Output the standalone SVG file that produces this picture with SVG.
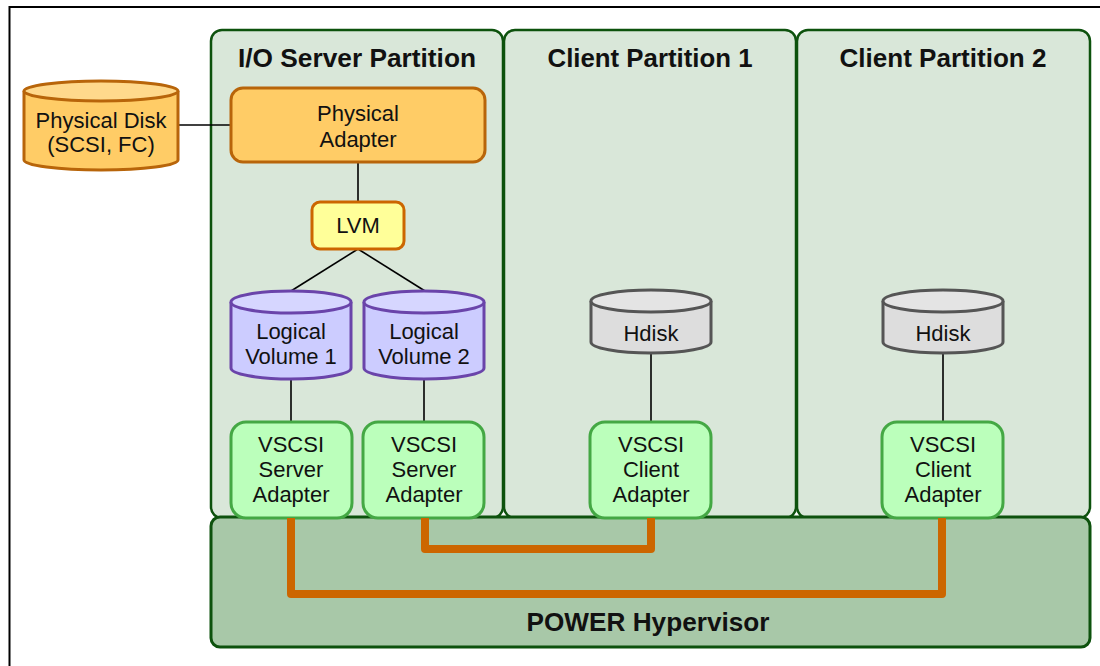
<svg xmlns="http://www.w3.org/2000/svg" width="1100" height="666" viewBox="0 0 1100 666">
<style>
.part{fill:#d9e7d9;stroke:#0d520d;stroke-width:2.5}
.hyp{fill:#a8c8a8;stroke:#0d520d;stroke-width:3}
.h{font-family:"Liberation Sans",Arial,sans-serif;font-weight:bold;font-size:25px;fill:#111;text-anchor:middle}
.t{font-family:"Liberation Sans",Arial,sans-serif;font-size:22px;fill:#111;text-anchor:middle}
.pd{fill:#ffcc66;stroke:#b8650a;stroke-width:3}
.pdtop{fill:#ffd98c;stroke:#b8650a;stroke-width:3}
.lvm{fill:#ffff99;stroke:#cc6600;stroke-width:3}
.lv{fill:#ccccff;stroke:#6a44aa;stroke-width:3}
.lvtop{fill:#d6d6ff;stroke:#6a44aa;stroke-width:3}
.hd{fill:#dddddd;stroke:#555555;stroke-width:3}
.hdtop{fill:#e4e4e4;stroke:#555555;stroke-width:3}
.vs{fill:#bbffbb;stroke:#44a844;stroke-width:3}
.ln{stroke:#000;stroke-width:1.6;fill:none}
.or{stroke:#cc6600;stroke-width:8;fill:none;stroke-linejoin:round}
</style>
<rect width="1100" height="666" fill="#ffffff"/>
<path d="M9.5,666 V7 H1100" fill="none" stroke="#000" stroke-width="2"/>

<g id="io-partition">
<rect class="part" x="211" y="30" width="292" height="488" rx="11"/>
<text class="h" x="357" y="67" textLength="238" lengthAdjust="spacingAndGlyphs">I/O Server Partition</text>
</g>
<g id="client-partition-1">
<rect class="part" x="504" y="30" width="292" height="488" rx="11"/>
<text class="h" x="650" y="67" textLength="205" lengthAdjust="spacingAndGlyphs">Client Partition 1</text>
</g>
<g id="client-partition-2">
<rect class="part" x="797" y="30" width="293" height="488" rx="11"/>
<text class="h" x="943" y="67" textLength="207" lengthAdjust="spacingAndGlyphs">Client Partition 2</text>
</g>
<g id="hypervisor">
<rect class="hyp" x="211" y="517" width="879" height="130" rx="9"/>
<text class="h" x="648" y="631" textLength="243" lengthAdjust="spacingAndGlyphs">POWER Hypervisor</text>
</g>

<g id="connectors">
<line class="ln" x1="179" y1="125" x2="231" y2="125"/>
<line class="ln" x1="358" y1="162" x2="358" y2="202"/>
<line class="ln" x1="358" y1="249" x2="291" y2="291"/>
<line class="ln" x1="358" y1="249" x2="425" y2="291"/>
<line class="ln" x1="291" y1="380" x2="291" y2="421"/>
<line class="ln" x1="424" y1="380" x2="424" y2="421"/>
<line class="ln" x1="651" y1="353" x2="651" y2="421"/>
<line class="ln" x1="943" y1="353" x2="943" y2="421"/>
</g>

<g id="physical-disk">
<path class="pd" d="M24,91 V160 A77,10 0 0 0 178,160 V91"/>
<ellipse class="pdtop" cx="101" cy="91" rx="77" ry="10"/>
<text class="t" x="101" y="128">Physical Disk</text>
<text class="t" x="101" y="152">(SCSI, FC)</text>
</g>
<g id="physical-adapter">
<rect class="pd" x="231" y="88" width="254" height="74" rx="12"/>
<text class="t" x="358" y="121">Physical</text>
<text class="t" x="358" y="147">Adapter</text>
</g>
<g id="lvm">
<rect class="lvm" x="312" y="202" width="92" height="47" rx="8"/>
<text class="t" x="358" y="233">LVM</text>
</g>
<g id="logical-volume-1">
<path class="lv" d="M231,302 V368 A60,11 0 0 0 351,368 V302"/>
<ellipse class="lvtop" cx="291" cy="302" rx="60" ry="11"/>
<text class="t" x="291" y="339">Logical</text>
<text class="t" x="291" y="364">Volume 1</text>
</g>
<g id="logical-volume-2">
<path class="lv" d="M364,302 V368 A60,11 0 0 0 484,368 V302"/>
<ellipse class="lvtop" cx="424" cy="302" rx="60" ry="11"/>
<text class="t" x="424" y="339">Logical</text>
<text class="t" x="424" y="364">Volume 2</text>
</g>
<g id="hdisk-1">
<path class="hd" d="M591,301 V342 A60,11 0 0 0 711,342 V301"/>
<ellipse class="hdtop" cx="651" cy="301" rx="60" ry="11"/>
<text class="t" x="651" y="341">Hdisk</text>
</g>
<g id="hdisk-2">
<path class="hd" d="M883,301 V342 A60,11 0 0 0 1003,342 V301"/>
<ellipse class="hdtop" cx="943" cy="301" rx="60" ry="11"/>
<text class="t" x="943" y="341">Hdisk</text>
</g>
<g id="vscsi-server-1">
<rect class="vs" x="231" y="422" width="121" height="96" rx="15"/>
<text class="t" x="291" y="452">VSCSI</text>
<text class="t" x="291" y="477">Server</text>
<text class="t" x="291" y="502">Adapter</text>
</g>
<g id="vscsi-server-2">
<rect class="vs" x="363" y="422" width="121" height="96" rx="15"/>
<text class="t" x="424" y="452">VSCSI</text>
<text class="t" x="424" y="477">Server</text>
<text class="t" x="424" y="502">Adapter</text>
</g>
<g id="vscsi-client-1">
<rect class="vs" x="590" y="422" width="121" height="96" rx="15"/>
<text class="t" x="651" y="452">VSCSI</text>
<text class="t" x="651" y="477">Client</text>
<text class="t" x="651" y="502">Adapter</text>
</g>
<g id="vscsi-client-2">
<rect class="vs" x="882" y="422" width="121" height="96" rx="15"/>
<text class="t" x="943" y="452">VSCSI</text>
<text class="t" x="943" y="477">Client</text>
<text class="t" x="943" y="502">Adapter</text>
</g>

<g id="hypervisor-links">
<path class="or" d="M291,518 V594 H942 V518"/>
<path class="or" d="M425,518 V549 H651 V518"/>
</g>
</svg>
